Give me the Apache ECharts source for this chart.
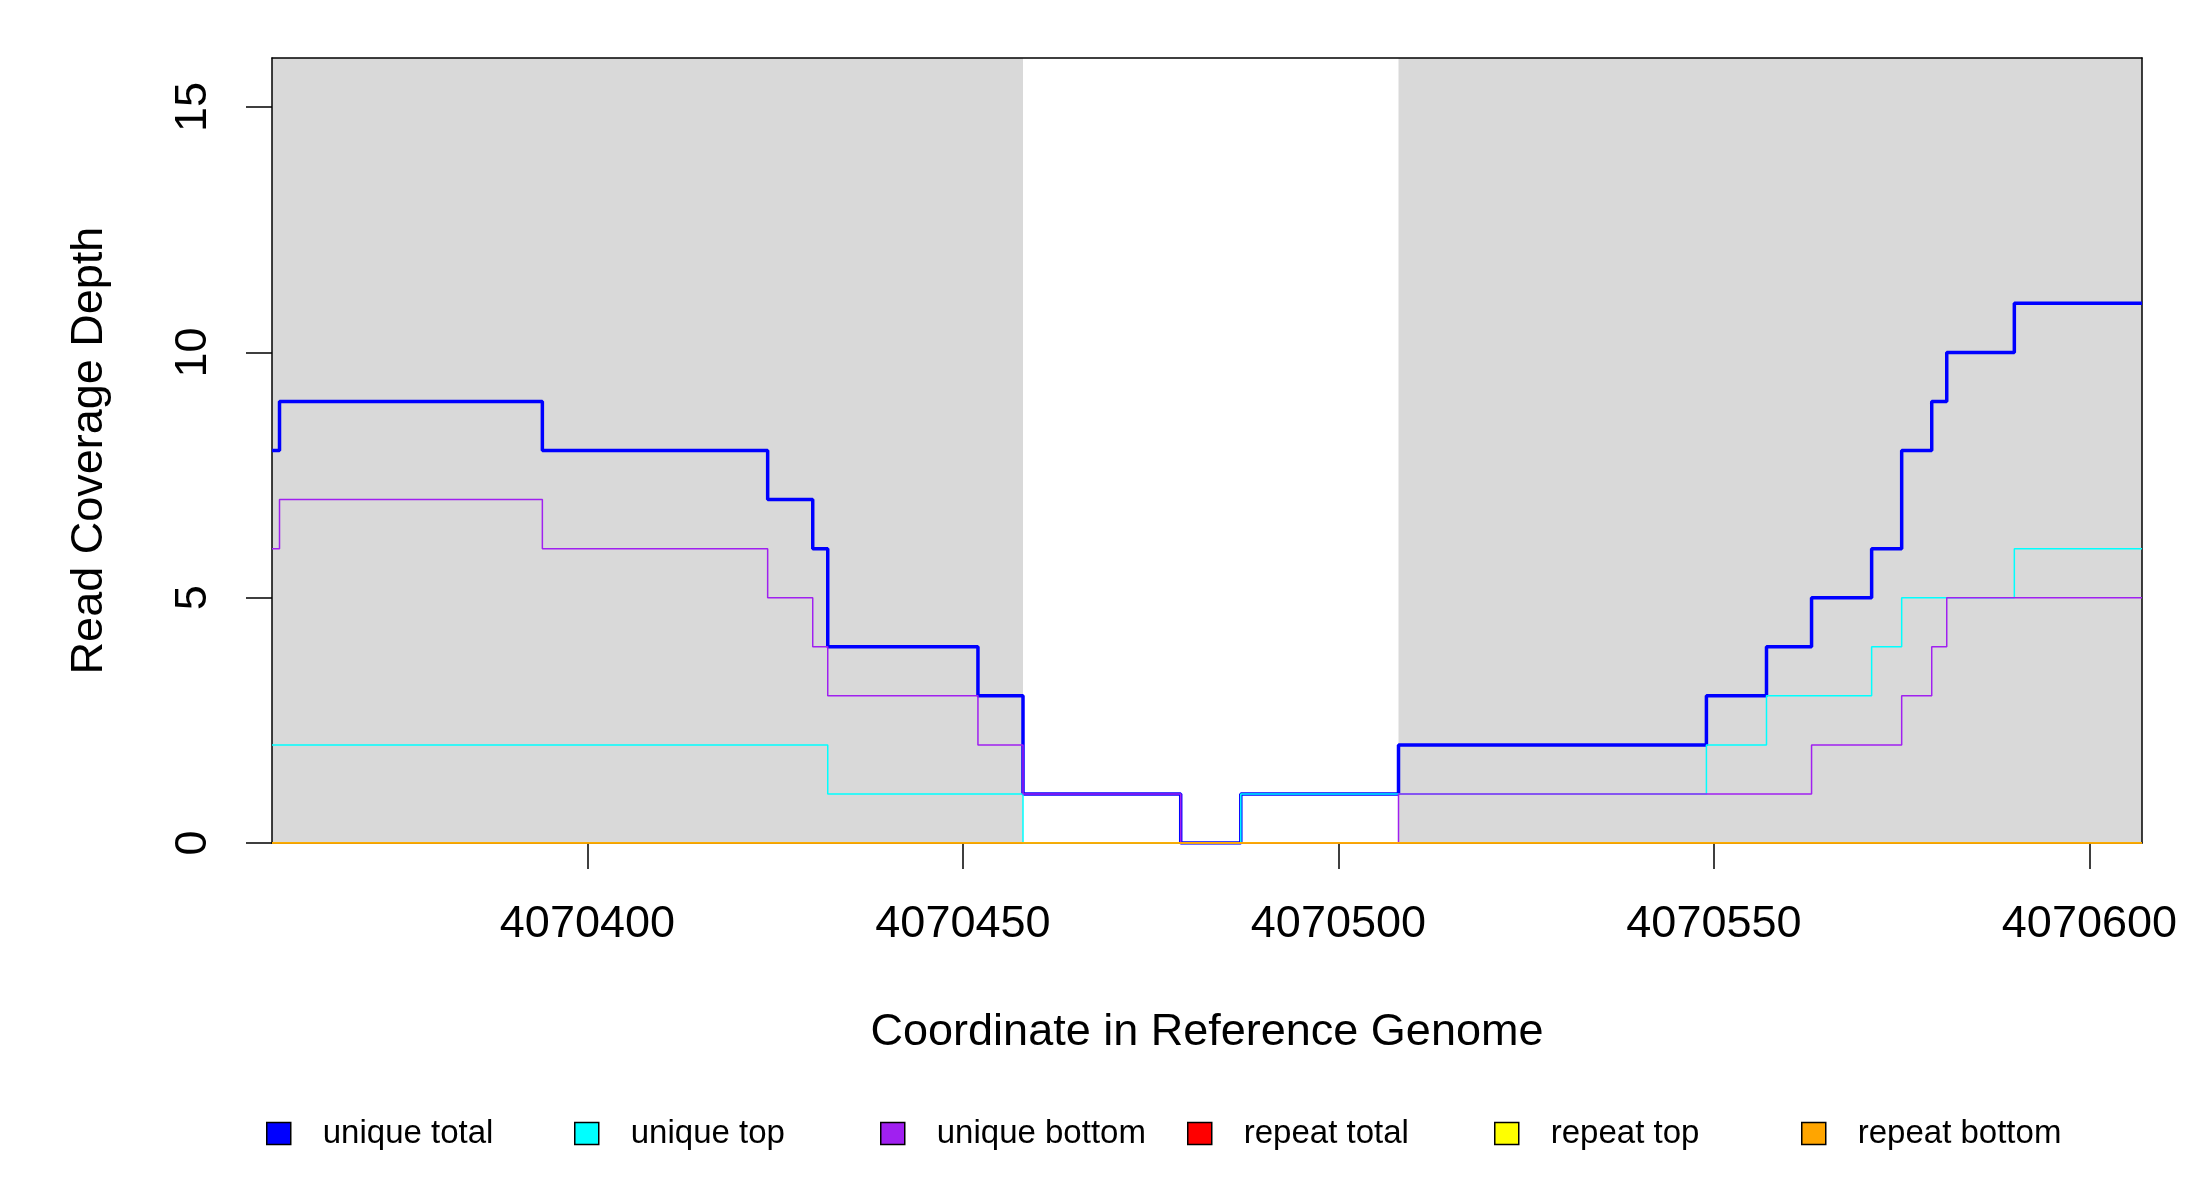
<!DOCTYPE html>
<html>
<head>
<meta charset="utf-8">
<title>Read Coverage Depth</title>
<script src="https://cdn.jsdelivr.net/npm/echarts@6/dist/echarts.min.js"></script>
<style>
    html, body { margin: 0; padding: 0; background: #fff; }
    #chart { width: 2200px; height: 1200px; }
</style>
</head>
<body>
<div id="chart"></div>
<script>
// change points along the genome (start of each step, last one is the end)
var positions = [4070358, 4070359, 4070394, 4070424, 4070430, 4070432, 4070452, 4070458, 4070479, 4070487,
    4070508, 4070549, 4070557, 4070563, 4070571, 4070575, 4070579, 4070581, 4070590, 4070607];

// depth of each series from each change point on
var uniqueTotal  = [8, 9, 8, 7, 6, 4, 3, 1, 0, 1, 2, 3, 4, 5, 6, 8, 9, 10, 11, 11];
var uniqueTop    = [2, 2, 2, 2, 2, 1, 1, 0, 0, 1, 1, 2, 3, 3, 4, 5, 5, 5, 6, 6];
var uniqueBottom = [6, 7, 6, 5, 4, 3, 2, 1, 0, 0, 1, 1, 1, 2, 2, 3, 4, 5, 5, 5];
var repeatTotal  = [0, 0, 0, 0, 0, 0, 0, 0, 0, 0, 0, 0, 0, 0, 0, 0, 0, 0, 0, 0];
var repeatTop    = [0, 0, 0, 0, 0, 0, 0, 0, 0, 0, 0, 0, 0, 0, 0, 0, 0, 0, 0, 0];
var repeatBottom = [0, 0, 0, 0, 0, 0, 0, 0, 0, 0, 0, 0, 0, 0, 0, 0, 0, 0, 0, 0];

// grey annotated regions
var shadedRegions = [[4070358, 4070458], [4070508, 4070607]];

var xTicks = [4070400, 4070450, 4070500, 4070550, 4070600];
var yTicks = [0, 5, 10, 15];

var seriesNames = ["unique total", "unique top", "unique bottom", "repeat total", "repeat top", "repeat bottom"];
var seriesColors = ["#0000FF", "#00FFFF", "#A020F0", "#FF0000", "#FFFF00", "#FFA500"];
var seriesValues = [uniqueTotal, uniqueTop, uniqueBottom, repeatTotal, repeatTop, repeatBottom];

var FONT = "Liberation Sans, Arial, sans-serif";

function toPairs(values) {
    return positions.map(function (p, i) {
        return [p, values[i]];
    });
}

var myChart = echarts.init(document.getElementById("chart"));

var series = [{
    // only carries the grey regions
    name: "regions",
    type: "line",
    data: [],
    z: 1,
    silent: true,
    markArea: {
        silent: true,
        itemStyle: { color: "#D9D9D9" },
        data: shadedRegions.map(function (r) {
            return [{ xAxis: r[0] }, { xAxis: r[1] }];
        })
    }
}];

seriesValues.forEach(function (values, i) {
    series.push({
        name: seriesNames[i],
        type: "line",
        step: "end",
        showSymbol: false,
        symbol: "none",
        z: 5 + i,
        data: toPairs(values),
        itemStyle: { color: seriesColors[i] },
        lineStyle: { color: seriesColors[i], width: i === 0 ? 3.5 : 1.5 }
    });
});

var legendLefts = [261, 569, 875, 1182, 1489, 1796];
var legends = seriesNames.map(function (name, i) {
    return {
        data: [{ name: name, icon: "rect" }],
        left: legendLefts[i],
        top: 1112,
        itemWidth: 24,
        itemHeight: 22,
        selectedMode: false,
        itemStyle: { borderColor: "#000", borderWidth: 1.5 },
        textStyle: { fontFamily: FONT, fontSize: 33, color: "#000", padding: [0, 0, 0, 27] }
    };
});

var option = {
    animation: false,
    backgroundColor: "#fff",
    legend: legends,
    grid: {
        left: 272,
        right: 58,
        top: 58,
        bottom: 357
    },
    xAxis: [{
        type: "value",
        min: 4070358,
        max: 4070607,
        z: 3,
        name: "Coordinate in Reference Genome",
        nameLocation: "middle",
        nameGap: 167,
        nameTextStyle: { fontFamily: FONT, fontSize: 45, color: "#000" },
        axisLine: { show: true, onZero: false, lineStyle: { color: "#000", width: 1.5 } },
        axisTick: { show: true, customValues: xTicks, length: 26, lineStyle: { color: "#000", width: 1.5 } },
        axisLabel: {
            customValues: xTicks,
            margin: 59,
            fontFamily: FONT,
            fontSize: 45,
            color: "#000",
            formatter: function (v) { return String(v); }
        },
        splitLine: { show: false }
    }, {
        // top edge of the box
        type: "value",
        position: "top",
        min: 4070358,
        max: 4070607,
        z: 3,
        axisLine: { show: true, onZero: false, lineStyle: { color: "#000", width: 1.5 } },
        axisTick: { show: false },
        axisLabel: { show: false },
        splitLine: { show: false }
    }],
    yAxis: [{
        type: "value",
        min: 0,
        max: 16,
        z: 3,
        name: "Read Coverage Depth",
        nameLocation: "middle",
        nameRotate: 90,
        nameGap: 160,
        nameTextStyle: { fontFamily: FONT, fontSize: 45, color: "#000" },
        axisLine: { show: true, onZero: false, lineStyle: { color: "#000", width: 1.5 } },
        axisTick: { show: true, customValues: yTicks, length: 26, lineStyle: { color: "#000", width: 1.5 } },
        axisLabel: {
            customValues: yTicks,
            rotate: 90,
            margin: 56,
            fontFamily: FONT,
            fontSize: 45,
            color: "#000"
        },
        splitLine: { show: false }
    }, {
        // right edge of the box
        type: "value",
        position: "right",
        min: 0,
        max: 16,
        z: 3,
        axisLine: { show: true, onZero: false, lineStyle: { color: "#000", width: 1.5 } },
        axisTick: { show: false },
        axisLabel: { show: false },
        splitLine: { show: false }
    }],
    series: series
};

myChart.setOption(option);
</script>
</body>
</html>
